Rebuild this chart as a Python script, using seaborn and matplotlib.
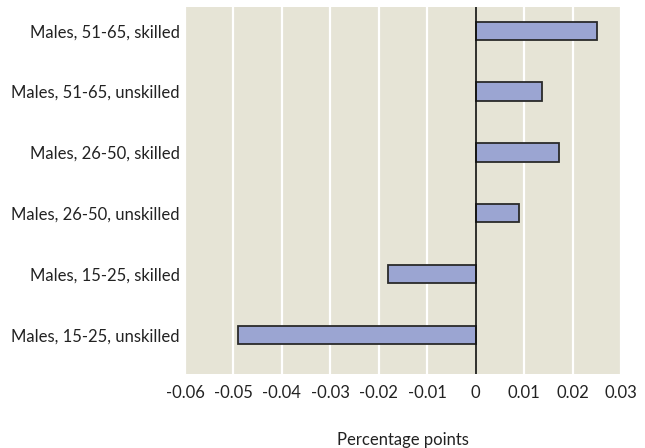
import matplotlib
matplotlib.use("Agg")
import matplotlib.pyplot as plt
import seaborn as sns
import pandas as pd

categories = [
    "Males, 51-65, skilled",
    "Males, 51-65, unskilled",
    "Males, 26-50, skilled",
    "Males, 26-50, unskilled",
    "Males, 15-25, skilled",
    "Males, 15-25, unskilled",
]
values = [0.025, 0.0136, 0.0171, 0.009, -0.018, -0.049]
xticks = [-0.06, -0.05, -0.04, -0.03, -0.02, -0.01, 0, 0.01, 0.02, 0.03]
xtick_labels = ["-0.06", "-0.05", "-0.04", "-0.03", "-0.02", "-0.01", "0", "0.01", "0.02", "0.03"]
x_label = "Percentage points"

sns.set_theme(style="white")
plt.rcParams['font.family'] = ['Lato', 'DejaVu Sans']

df = pd.DataFrame({"cat": categories, "val": values})

fig = plt.figure(figsize=(6.45, 4.48), dpi=100)
ax = fig.add_axes([185/645, 1 - 374/448, 436/645, 367/448])
ax.set_facecolor("#E6E4D6")

for xt in xticks:
    if xt != 0:
        ax.axvline(xt, color="white", lw=1.6, zorder=0.5)

sns.barplot(data=df, x="val", y="cat", order=categories, orient="h",
            color="#9BA5D2", edgecolor="#2a2a2a", linewidth=1.3,
            width=0.3, saturation=1, ax=ax, zorder=2)

ax.axvline(0, color="#111111", lw=1.2, zorder=3)

ax.set_xlim(-0.06, 0.03)
ax.set_ylim(5.64, -0.39)
ax.set_xticks(xticks)
ax.set_xticklabels(xtick_labels)
ax.set_ylabel("")
ax.set_xlabel(x_label, fontsize=12, color="#222222", labelpad=22)
ax.tick_params(axis="both", length=0, labelsize=12, colors="#222222")
ax.tick_params(axis="x", pad=8)
ax.tick_params(axis="y", pad=4)
for s in ax.spines.values():
    s.set_visible(False)
ax.grid(False)

fig.savefig("out.png", dpi=100)
